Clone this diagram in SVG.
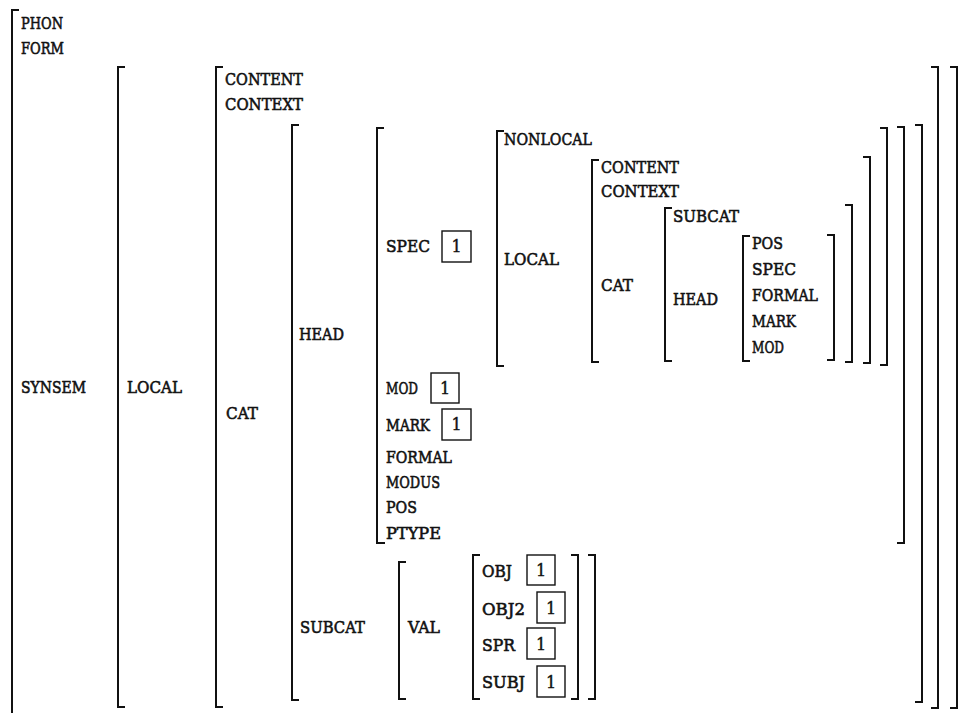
<svg xmlns="http://www.w3.org/2000/svg" width="965" height="713" viewBox="0 0 965 713">
<style>
text{font-family:"DejaVu Serif","Liberation Serif",serif;font-size:17px;fill:#111;stroke:#111;stroke-width:0.6}
.br{fill:none;stroke:#111;stroke-width:2}
.box{fill:none;stroke:#111;stroke-width:1.4}
.n{text-anchor:middle;font-size:16px;stroke-width:0.4}
</style>
<rect x="0" y="0" width="965" height="713" fill="#fff"/>
<g id="avm-sign">
<path class="br" d="M19,10H12V716"/>
<text x="21" y="29" textLength="42" lengthAdjust="spacingAndGlyphs">PHON</text>
<text x="21" y="54" textLength="43" lengthAdjust="spacingAndGlyphs">FORM</text>
<text x="21" y="393" textLength="65" lengthAdjust="spacingAndGlyphs">SYNSEM</text>
</g>
<g id="avm-synsem">
<path class="br" d="M125,67H118V707H125"/>
<path class="br" d="M931,67H938V708H931"/>
<text x="127" y="393" textLength="55" lengthAdjust="spacingAndGlyphs">LOCAL</text>
</g>
<g id="avm-local">
<path class="br" d="M223,67H216V707H223"/>
<path class="br" d="M950,67H957V708H950"/>
<text x="225" y="85" textLength="78" lengthAdjust="spacingAndGlyphs">CONTENT</text>
<text x="225" y="110" textLength="78" lengthAdjust="spacingAndGlyphs">CONTEXT</text>
<text x="226" y="419" textLength="32" lengthAdjust="spacingAndGlyphs">CAT</text>
</g>
<g id="avm-cat">
<path class="br" d="M299,125H292V700H299"/>
<path class="br" d="M915,125H922V702H915"/>
<text x="299" y="340" textLength="45" lengthAdjust="spacingAndGlyphs">HEAD</text>
<text x="300" y="633" textLength="65" lengthAdjust="spacingAndGlyphs">SUBCAT</text>
</g>
<g id="avm-head">
<path class="br" d="M384,128H377V543H385"/>
<path class="br" d="M897,127H904V543H897"/>
<text x="386" y="252" textLength="44" lengthAdjust="spacingAndGlyphs">SPEC</text>
<rect class="box" x="442" y="231" width="29" height="31"/>
<text class="n" x="456.5" y="252">1</text>
<text x="386" y="394" textLength="32" lengthAdjust="spacingAndGlyphs">MOD</text>
<rect class="box" x="431" y="373" width="28" height="30"/>
<text class="n" x="445" y="394">1</text>
<text x="386" y="431" textLength="44" lengthAdjust="spacingAndGlyphs">MARK</text>
<rect class="box" x="442" y="409" width="29" height="31"/>
<text class="n" x="456.5" y="430">1</text>
<text x="386" y="463" textLength="66" lengthAdjust="spacingAndGlyphs">FORMAL</text>
<text x="386" y="488" textLength="54" lengthAdjust="spacingAndGlyphs">MODUS</text>
<text x="386" y="513" textLength="31" lengthAdjust="spacingAndGlyphs">POS</text>
<text x="386" y="539" textLength="55" lengthAdjust="spacingAndGlyphs">PTYPE</text>
</g>
<g id="avm-spec">
<path class="br" d="M504,131H497V366H504"/>
<path class="br" d="M880,128H887V365H880"/>
<text x="504" y="145" textLength="88" lengthAdjust="spacingAndGlyphs">NONLOCAL</text>
<text x="504" y="265" textLength="55" lengthAdjust="spacingAndGlyphs">LOCAL</text>
</g>
<g id="avm-spec-local">
<path class="br" d="M599,160H592V362H599"/>
<path class="br" d="M863,157H870V363H863"/>
<text x="601" y="173" textLength="78" lengthAdjust="spacingAndGlyphs">CONTENT</text>
<text x="601" y="197" textLength="78" lengthAdjust="spacingAndGlyphs">CONTEXT</text>
<text x="601" y="291" textLength="32" lengthAdjust="spacingAndGlyphs">CAT</text>
</g>
<g id="avm-spec-cat">
<path class="br" d="M672,208H665V361H672"/>
<path class="br" d="M845,205H852V362H845"/>
<text x="673" y="222" textLength="66" lengthAdjust="spacingAndGlyphs">SUBCAT</text>
<text x="673" y="305" textLength="45" lengthAdjust="spacingAndGlyphs">HEAD</text>
</g>
<g id="avm-spec-head">
<path class="br" d="M750,236H743V361H750"/>
<path class="br" d="M827,235H834V360H827"/>
<text x="752" y="249" textLength="31" lengthAdjust="spacingAndGlyphs">POS</text>
<text x="752" y="275" textLength="44" lengthAdjust="spacingAndGlyphs">SPEC</text>
<text x="752" y="301" textLength="66" lengthAdjust="spacingAndGlyphs">FORMAL</text>
<text x="752" y="327" textLength="44" lengthAdjust="spacingAndGlyphs">MARK</text>
<text x="752" y="353" textLength="32" lengthAdjust="spacingAndGlyphs">MOD</text>
</g>
<g id="avm-subcat">
<path class="br" d="M406,562H399V699H406"/>
<path class="br" d="M588,555H595V699H588"/>
<text x="408" y="633" textLength="32" lengthAdjust="spacingAndGlyphs">VAL</text>
</g>
<g id="avm-val">
<path class="br" d="M480,555H473V699H480"/>
<path class="br" d="M571,555H578V699H571"/>
<text x="482" y="577" textLength="30" lengthAdjust="spacingAndGlyphs">OBJ</text>
<rect class="box" x="527" y="555" width="28" height="30"/>
<text class="n" x="541" y="576">1</text>
<text x="482" y="615" textLength="43" lengthAdjust="spacingAndGlyphs">OBJ2</text>
<rect class="box" x="537" y="592" width="28" height="31"/>
<text class="n" x="551" y="614">1</text>
<text x="482" y="651" textLength="33" lengthAdjust="spacingAndGlyphs">SPR</text>
<rect class="box" x="527" y="628" width="28" height="31"/>
<text class="n" x="541" y="650">1</text>
<text x="482" y="688" textLength="43" lengthAdjust="spacingAndGlyphs">SUBJ</text>
<rect class="box" x="537" y="666" width="28" height="31"/>
<text class="n" x="551" y="688">1</text>
</g>
<g id="connectors"/>
</svg>
